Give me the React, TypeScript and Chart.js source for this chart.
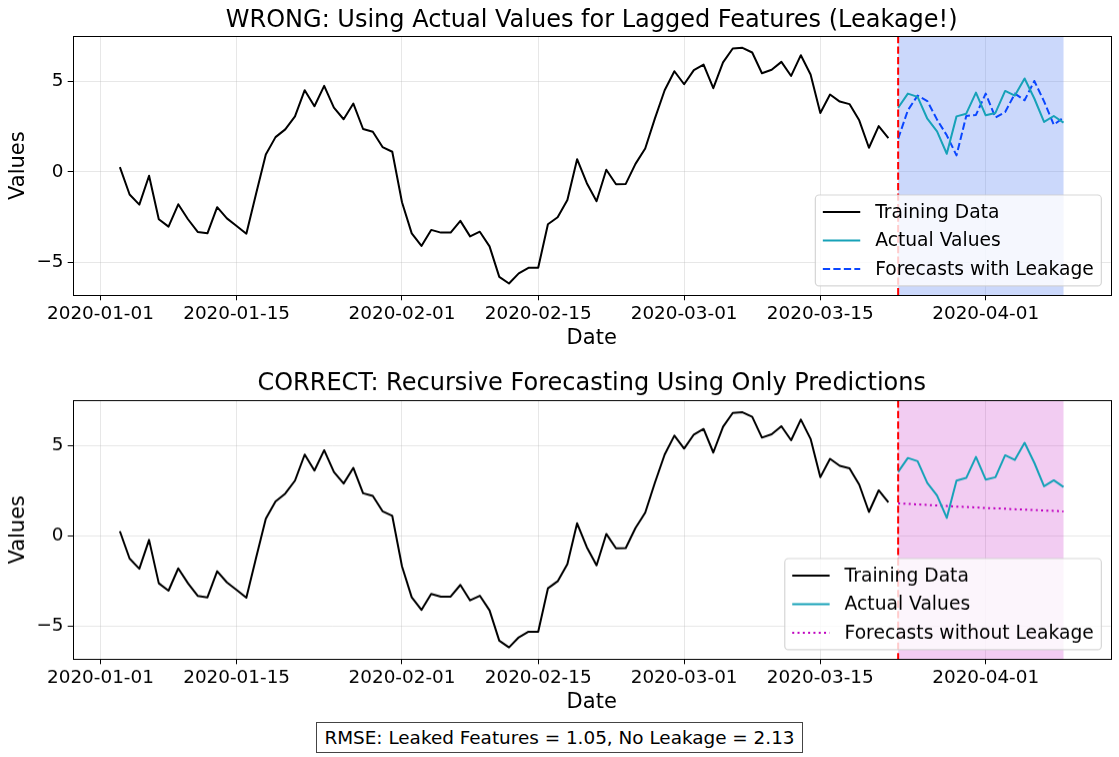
import { useEffect, useRef } from 'react';
import { Chart, registerables } from 'chart.js';

Chart.register(...registerables);

const FONT = '"DejaVu Sans", "Liberation Sans", sans-serif';

// Daily series, training part then the held-out test window
const trainStart = '2020-01-03';
const trainValues = [
  0.26, -1.26, -1.82, -0.22, -2.63, -3.04, -1.8, -2.63, -3.33, -3.41,
  -1.96, -2.58, -3.0, -3.43, -1.22, 0.96, 1.92, 2.35, 3.07, 4.52,
  3.63, 4.76, 3.55, 2.91, 3.78, 2.37, 2.22, 1.37, 1.11, -1.69,
  -3.41, -4.11, -3.22, -3.37, -3.37, -2.72, -3.58, -3.32, -4.13, -5.82,
  -6.19, -5.63, -5.32, -5.32, -2.91, -2.52, -1.56, 0.7, -0.63, -1.63,
  0.11, -0.69, -0.67, 0.44, 1.29, 2.96, 4.52, 5.57, 4.85, 5.63,
  5.94, 4.63, 6.06, 6.83, 6.87, 6.61, 5.46, 5.65, 6.09, 5.31,
  6.46, 5.39, 3.26, 4.28, 3.89, 3.75, 2.85, 1.33, 2.53, 1.87,
];

const testStart = '2020-03-23';
const actualValues = [
  3.55, 4.33, 4.15, 2.94, 2.24, 1.0, 3.07, 3.22, 4.39, 3.13,
  3.26, 4.48, 4.22, 5.17, 4.06, 2.76, 3.09, 2.72,
];
const leakedForecast = [
  1.83, 3.41, 4.22, 3.92, 2.89, 2.02, 0.91, 3.09, 3.15, 4.33,
  3.0, 3.31, 4.33, 3.96, 5.03, 3.9, 2.61, 3.0,
];
const recursiveForecast = [
  1.81, 1.78, 1.75, 1.72, 1.69, 1.66, 1.63, 1.61, 1.58, 1.55,
  1.53, 1.51, 1.48, 1.46, 1.44, 1.41, 1.39, 1.36,
];

const xTickDates = [
  '2020-01-01', '2020-01-15', '2020-02-01', '2020-02-15',
  '2020-03-01', '2020-03-15', '2020-04-01',
];
const yTicks = [-5, 0, 5];

const rmseLeaked = 1.05;
const rmseRecursive = 2.13;

const DAY_MS = 86400000;
const EPOCH = Date.UTC(2020, 0, 1);
const toDay = (s: string) => {
  const [y, m, d] = s.split('-').map(Number);
  return (Date.UTC(y, m - 1, d) - EPOCH) / DAY_MS;
};
const fromDay = (n: number) => new Date(EPOCH + Math.round(n) * DAY_MS).toISOString().slice(0, 10);

const trainPts = trainValues.map((y, i) => ({ x: toDay(trainStart) + i, y }));
const testX = (i: number) => toDay(testStart) + i;
const actualPts = actualValues.map((y, i) => ({ x: testX(i), y }));
const leakedPts = leakedForecast.map((y, i) => ({ x: testX(i), y }));
const recursivePts = recursiveForecast.map((y, i) => ({ x: testX(i), y }));

// axis limits with a 5% margin around the data, like the usual autoscale
const xLo = trainPts[0].x;
const xHi = testX(actualValues.length - 1);
const allY = [...trainValues, ...actualValues, ...leakedForecast, ...recursiveForecast];
const yLo = Math.min(...allY);
const yHi = Math.max(...allY);
const X_MIN = xLo - 0.05 * (xHi - xLo);
const X_MAX = xHi + 0.05 * (xHi - xLo);
const Y_MIN = yLo - 0.05 * (yHi - yLo);
const Y_MAX = yHi + 0.05 * (yHi - yLo);

const BLACK = '#000000';
const TEAL = '#17a2b8';
const BLUE = '#0a46ff';
const MAGENTA = '#bf00bf';

type LegendItem = { label: string; color: string; dash: number[] };

type PanelSpec = {
  title: string;
  forecastLabel: string;
  forecastPts: { x: number; y: number }[];
  forecastColor: string;
  forecastDash: number[];
  shade: string;
  topPad: number;
  titleY: number;
};

const TICK_FONT = 18.4;
const LEGEND_FONT = 18.7;
const LABEL_FONT = 21;
const TITLE_FONT = 24;

const panelPlugin = (spec: PanelSpec, items: LegendItem[]) => ({
  id: 'panelDecor',
  beforeDatasetsDraw(chart: any) {
    const { ctx, chartArea, scales } = chart;
    const x0 = scales.x.getPixelForValue(testX(0));
    const x1 = scales.x.getPixelForValue(testX(actualValues.length - 1));
    ctx.save();
    ctx.fillStyle = spec.shade;
    ctx.fillRect(x0, chartArea.top, x1 - x0, chartArea.bottom - chartArea.top);
    ctx.restore();
  },
  afterDraw(chart: any) {
    const { ctx, chartArea, scales } = chart;

    // panel title, centred over the plotting area
    ctx.save();
    ctx.font = `${TITLE_FONT}px ${FONT}`;
    ctx.fillStyle = '#000';
    ctx.textAlign = 'center';
    ctx.textBaseline = 'middle';
    ctx.fillText(spec.title, (chartArea.left + chartArea.right) / 2, spec.titleY);
    ctx.restore();

    // split marker at the first test date
    const xs = scales.x.getPixelForValue(testX(0));
    ctx.save();
    ctx.strokeStyle = '#ff0000';
    ctx.lineWidth = 2;
    ctx.setLineDash([7.3, 3.2]);
    ctx.beginPath();
    ctx.moveTo(xs, chartArea.top);
    ctx.lineTo(xs, chartArea.bottom);
    ctx.stroke();
    ctx.restore();

    // axes frame
    ctx.save();
    ctx.strokeStyle = '#000';
    ctx.lineWidth = 1;
    ctx.strokeRect(
      Math.round(chartArea.left) + 0.5,
      Math.round(chartArea.top) + 0.5,
      Math.round(chartArea.right) - Math.round(chartArea.left),
      Math.round(chartArea.bottom) - Math.round(chartArea.top),
    );
    ctx.restore();

    // legend in the lower right corner
    const f = LEGEND_FONT;
    const pad = 0.4 * f;
    const handleLen = 2 * f;
    const handleGap = 0.8 * f;
    const rowH = 19.1;
    const rowGap = 0.5 * f;
    ctx.save();
    ctx.font = `${f}px ${FONT}`;
    const textW = Math.max(...items.map((it) => ctx.measureText(it.label).width));
    const w = pad * 2 + handleLen + handleGap + textW;
    const h = pad * 2 + rowH * items.length + rowGap * (items.length - 1);
    const right = chartArea.right - 0.5 * f;
    const bottom = chartArea.bottom - 0.5 * f;
    const left = right - w;
    const top = bottom - h;
    ctx.beginPath();
    ctx.roundRect(left, top, w, h, 3.7);
    ctx.fillStyle = 'rgba(255,255,255,0.8)';
    ctx.fill();
    ctx.strokeStyle = 'rgba(204,204,204,0.8)';
    ctx.lineWidth = 1.2;
    ctx.stroke();
    items.forEach((it, i) => {
      const cy = top + pad + rowH / 2 + i * (rowH + rowGap);
      ctx.strokeStyle = it.color;
      ctx.lineWidth = 2;
      ctx.setLineDash(it.dash);
      ctx.beginPath();
      ctx.moveTo(left + pad, cy);
      ctx.lineTo(left + pad + handleLen, cy);
      ctx.stroke();
      ctx.setLineDash([]);
      ctx.fillStyle = '#000';
      ctx.textBaseline = 'middle';
      ctx.textAlign = 'left';
      ctx.fillText(it.label, left + pad + handleLen + handleGap, cy + 1);
    });
    ctx.restore();
  },
});

const buildConfig = (spec: PanelSpec): any => {
  const items: LegendItem[] = [
    { label: 'Training Data', color: BLACK, dash: [] },
    { label: 'Actual Values', color: TEAL, dash: [] },
    { label: spec.forecastLabel, color: spec.forecastColor, dash: spec.forecastDash },
  ];
  const line = (label: string, data: any[], color: string, dash: number[]) => ({
    label,
    data,
    borderColor: color,
    backgroundColor: color,
    borderWidth: 2,
    borderDash: dash,
    borderJoinStyle: 'round',
    pointRadius: 0,
    tension: 0,
    fill: false,
  });
  return {
    type: 'line',
    data: {
      datasets: [
        line('Training Data', trainPts, BLACK, []),
        line('Actual Values', actualPts, TEAL, []),
        line(spec.forecastLabel, spec.forecastPts, spec.forecastColor, spec.forecastDash),
      ],
    },
    options: {
      animation: false,
      responsive: false,
      devicePixelRatio: 1,
      events: [],
      layout: { padding: { left: 0, right: 8.3, top: spec.topPad, bottom: 0 } },
      plugins: {
        legend: { display: false },
        tooltip: { enabled: false },
        title: { display: false },
      },
      scales: {
        x: {
          type: 'linear',
          min: X_MIN,
          max: X_MAX,
          afterBuildTicks: (s: any) => {
            s.ticks = xTickDates.map((d) => ({ value: toDay(d) }));
          },
          afterFit: (s: any) => {
            s.height = 59.7;
          },
          ticks: {
            autoSkip: false,
            maxRotation: 0,
            padding: 3,
            color: '#000',
            font: { family: FONT, size: TICK_FONT },
            callback: (v: number) => fromDay(v),
          },
          grid: {
            color: 'rgba(176,176,176,0.3)',
            lineWidth: 1,
            tickColor: '#000',
            tickLength: 5,
          },
          border: { display: false },
          title: {
            display: true,
            text: 'Date',
            color: '#000',
            font: { family: FONT, size: LABEL_FONT },
            padding: { top: 0, bottom: 3.6 },
          },
        },
        y: {
          type: 'linear',
          min: Y_MIN,
          max: Y_MAX,
          afterBuildTicks: (s: any) => {
            s.ticks = yTicks.map((v) => ({ value: v }));
          },
          afterFit: (s: any) => {
            s.width = 72.7;
          },
          ticks: {
            padding: 4.2,
            color: '#000',
            font: { family: FONT, size: TICK_FONT },
            callback: (v: number) => (v < 0 ? '\u2212' + Math.abs(v) : String(v)),
          },
          grid: {
            color: 'rgba(176,176,176,0.3)',
            lineWidth: 1,
            tickColor: '#000',
            tickLength: 5,
          },
          border: { display: false },
          title: {
            display: true,
            text: 'Values',
            color: '#000',
            font: { family: FONT, size: LABEL_FONT },
            padding: { top: 5.5, bottom: 0 },
          },
        },
      },
    },
    plugins: [panelPlugin(spec, items)],
  };
};

const leakedPanel: PanelSpec = {
  title: 'WRONG: Using Actual Values for Lagged Features (Leakage!)',
  forecastLabel: 'Forecasts with Leakage',
  forecastPts: leakedPts,
  forecastColor: BLUE,
  forecastDash: [7.3, 3.2],
  shade: 'rgba(82,125,242,0.3)',
  topPad: 36,
  titleY: 20.5,
};

const recursivePanel: PanelSpec = {
  title: 'CORRECT: Recursive Forecasting Using Only Predictions',
  forecastLabel: 'Forecasts without Leakage',
  forecastPts: recursivePts,
  forecastColor: MAGENTA,
  forecastDash: [2, 3.3],
  shade: 'rgba(191,0,191,0.2)',
  topPad: 40.3,
  titleY: 23.5,
};

function Panel({ spec, top, height }: { spec: PanelSpec; top: number; height: number }) {
  const ref = useRef<HTMLCanvasElement | null>(null);
  useEffect(() => {
    if (!ref.current) return;
    const chart = new Chart(ref.current, buildConfig(spec));
    return () => chart.destroy();
  }, [spec]);
  return (
    <canvas
      ref={ref}
      width={1119}
      height={height}
      style={{ position: 'absolute', left: 0, top, width: 1119, height }}
    />
  );
}

export default function App() {
  return (
    <div
      style={{
        position: 'absolute',
        left: 0,
        top: 0,
        width: 1119,
        height: 757,
        background: '#fff',
        overflow: 'hidden',
        fontFamily: FONT,
      }}
    >
      <Panel spec={leakedPanel} top={0} height={355} />
      <Panel spec={recursivePanel} top={360} height={358.7} />
      <div
        style={{
          position: 'absolute',
          left: 315.7,
          top: 722.3,
          width: 487.6,
          height: 31,
          boxSizing: 'border-box',
          border: '1px solid #444',
          background: '#fff',
          display: 'flex',
          alignItems: 'center',
          justifyContent: 'center',
          fontSize: 18.4,
          color: '#000',
          whiteSpace: 'nowrap',
        }}
      >
        {`RMSE: Leaked Features = ${rmseLeaked.toFixed(2)}, No Leakage = ${rmseRecursive.toFixed(2)}`}
      </div>
    </div>
  );
}
